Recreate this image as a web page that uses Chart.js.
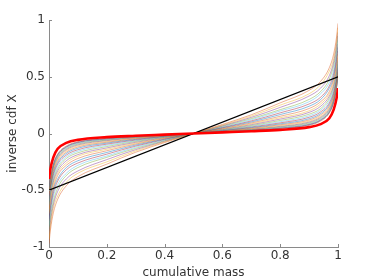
<!DOCTYPE html>
<html>
<head>
<meta charset="utf-8">
<script src="https://cdn.jsdelivr.net/npm/chart.js@4.4.1/dist/chart.umd.min.js"></script>
<style>
  html, body { margin: 0; padding: 0; background: #fff; }
  #wrap { width: 374px; height: 280px; }
</style>
</head>
<body>
<div id="wrap"><canvas id="cdfChart" width="374" height="280"></canvas></div>
<script>
// cumulative mass grid (x)
const massGrid = [0, 0.005, 0.015, 0.03, 0.06, 0.1, 0.2, 0.3, 0.4, 0.5, 0.6, 0.7, 0.8, 0.9, 0.94, 0.97, 0.985, 0.995, 1];

// thin curves, outermost (near the straight line) first
const cdfCurves = [
  [-0.97, -0.85, -0.70, -0.58, -0.46, -0.38, -0.27, -0.165, -0.08, 0, 0.08, 0.165, 0.27, 0.38, 0.46, 0.58, 0.70, 0.85, 0.97],
  [-0.93, -0.81, -0.66, -0.55, -0.43, -0.35, -0.25, -0.153, -0.074, 0, 0.074, 0.153, 0.25, 0.35, 0.43, 0.55, 0.66, 0.81, 0.93],
  [-0.89, -0.78, -0.63, -0.51, -0.40, -0.33, -0.23, -0.142, -0.069, 0, 0.069, 0.142, 0.23, 0.33, 0.40, 0.51, 0.63, 0.78, 0.89],
  [-0.86, -0.74, -0.60, -0.48, -0.37, -0.30, -0.21, -0.131, -0.064, 0, 0.064, 0.131, 0.21, 0.30, 0.37, 0.48, 0.60, 0.74, 0.86],
  [-0.82, -0.71, -0.56, -0.45, -0.35, -0.28, -0.198, -0.121, -0.059, 0, 0.059, 0.121, 0.198, 0.28, 0.35, 0.45, 0.56, 0.71, 0.82],
  [-0.79, -0.68, -0.53, -0.42, -0.32, -0.26, -0.182, -0.111, -0.054, 0, 0.054, 0.111, 0.182, 0.26, 0.32, 0.42, 0.53, 0.68, 0.79],
  [-0.76, -0.65, -0.50, -0.40, -0.30, -0.24, -0.167, -0.102, -0.050, 0, 0.050, 0.102, 0.167, 0.24, 0.30, 0.40, 0.50, 0.65, 0.76],
  [-0.73, -0.62, -0.48, -0.37, -0.28, -0.22, -0.152, -0.093, -0.045, 0, 0.045, 0.093, 0.152, 0.22, 0.28, 0.37, 0.48, 0.62, 0.73],
  [-0.70, -0.59, -0.45, -0.35, -0.26, -0.20, -0.139, -0.085, -0.042, 0, 0.042, 0.085, 0.139, 0.20, 0.26, 0.35, 0.45, 0.59, 0.70],
  [-0.67, -0.57, -0.43, -0.33, -0.24, -0.186, -0.127, -0.078, -0.038, 0, 0.038, 0.078, 0.127, 0.186, 0.24, 0.33, 0.43, 0.57, 0.67],
  [-0.65, -0.54, -0.41, -0.31, -0.22, -0.170, -0.115, -0.070, -0.034, 0, 0.034, 0.070, 0.115, 0.170, 0.22, 0.31, 0.41, 0.54, 0.65],
  [-0.63, -0.52, -0.39, -0.29, -0.205, -0.156, -0.104, -0.064, -0.031, 0, 0.031, 0.064, 0.104, 0.156, 0.205, 0.29, 0.39, 0.52, 0.63],
  [-0.61, -0.50, -0.37, -0.27, -0.190, -0.143, -0.094, -0.058, -0.028, 0, 0.028, 0.058, 0.094, 0.143, 0.190, 0.27, 0.37, 0.50, 0.61],
  [-0.59, -0.485, -0.351, -0.256, -0.176, -0.130, -0.085, -0.052, -0.026, 0, 0.026, 0.052, 0.085, 0.130, 0.176, 0.256, 0.351, 0.485, 0.59],
  [-0.572, -0.469, -0.336, -0.241, -0.164, -0.119, -0.077, -0.047, -0.023, 0, 0.023, 0.047, 0.077, 0.119, 0.164, 0.241, 0.336, 0.469, 0.572],
  [-0.557, -0.454, -0.322, -0.228, -0.152, -0.109, -0.070, -0.043, -0.021, 0, 0.021, 0.043, 0.070, 0.109, 0.152, 0.228, 0.322, 0.454, 0.557],
  [-0.544, -0.442, -0.310, -0.217, -0.143, -0.101, -0.063, -0.039, -0.019, 0, 0.019, 0.039, 0.063, 0.101, 0.143, 0.217, 0.310, 0.442, 0.544],
  [-0.532, -0.431, -0.299, -0.207, -0.134, -0.093, -0.058, -0.035, -0.018, 0, 0.018, 0.035, 0.058, 0.093, 0.134, 0.207, 0.299, 0.431, 0.532],
  [-0.522, -0.421, -0.290, -0.199, -0.126, -0.087, -0.053, -0.033, -0.016, 0, 0.016, 0.033, 0.053, 0.087, 0.126, 0.199, 0.290, 0.421, 0.522],
  [-0.514, -0.414, -0.283, -0.192, -0.121, -0.081, -0.049, -0.030, -0.015, 0, 0.015, 0.030, 0.049, 0.081, 0.121, 0.192, 0.283, 0.414, 0.514],
  [-0.508, -0.408, -0.277, -0.187, -0.116, -0.077, -0.046, -0.028, -0.014, 0, 0.014, 0.028, 0.046, 0.077, 0.116, 0.187, 0.277, 0.408, 0.508],
  [-0.50, -0.40, -0.27, -0.18, -0.11, -0.072, -0.042, -0.026, -0.013, 0, 0.013, 0.026, 0.042, 0.072, 0.11, 0.18, 0.27, 0.40, 0.50]
];

// thick red curve
const redCurve = [-0.40, -0.31, -0.21, -0.135, -0.083, -0.056, -0.032, -0.02, -0.01, 0, 0.01, 0.02, 0.032, 0.056, 0.083, 0.135, 0.21, 0.31, 0.40];

// straight black line
const lineX = [0, 1];
const lineY = [-0.5, 0.5];

const xTicks = [0, 0.2, 0.4, 0.6, 0.8, 1];
const xTickLabels = ["0", "0.2", "0.4", "0.6", "0.8", "1"];
const yTicks = [-1, -0.5, 0, 0.5, 1];
const yTickLabels = ["-1", "-0.5", "0", "0.5", "1"];

const lineColors = [
  "rgba(217,83,25,0.65)",
  "rgba(237,177,32,0.65)",
  "rgba(126,47,142,0.65)",
  "rgba(119,172,48,0.65)",
  "rgba(77,190,238,0.65)",
  "rgba(162,20,47,0.65)",
  "rgba(0,114,189,0.65)"
];

const toPoints = (xs, ys) => xs.map((x, i) => ({ x: x, y: ys[i] }));

const datasets = [];
cdfCurves.forEach((row, i) => {
  datasets.push({
    data: toPoints(massGrid, row),
    borderColor: lineColors[i % lineColors.length],
    borderWidth: 0.7,
    pointRadius: 0,
    cubicInterpolationMode: "monotone",
    order: 2
  });
});
datasets.push({
  data: toPoints(lineX, lineY),
  borderColor: "#000",
  borderWidth: 1.3,
  pointRadius: 0,
  order: 1
});
datasets.push({
  data: toPoints(massGrid, redCurve),
  borderColor: "#ff0000",
  borderWidth: 2.6,
  pointRadius: 0,
  cubicInterpolationMode: "monotone",
  order: 0
});

/* ---------- inward ticks, matlab style ---------- */
const innerTicks = {
  id: "innerTicks",
  afterDraw(chart) {
    const ctx = chart.ctx;
    const xs = chart.scales.x;
    const ys = chart.scales.y;
    const area = chart.chartArea;
    ctx.save();
    ctx.strokeStyle = "#8a8a8a";
    ctx.lineWidth = 1;
    ctx.beginPath();
    xTicks.forEach(v => {
      const px = Math.round(xs.getPixelForValue(v)) + 0.5;
      ctx.moveTo(px, area.bottom);
      ctx.lineTo(px, area.bottom - 3);
    });
    yTicks.forEach(v => {
      const py = Math.round(ys.getPixelForValue(v)) + 0.5;
      ctx.moveTo(area.left, py);
      ctx.lineTo(area.left + 3, py);
    });
    ctx.stroke();
    ctx.restore();
  }
};

const font = { family: "DejaVu Sans", size: 12 };

new Chart(document.getElementById("cdfChart"), {
  type: "line",
  data: { datasets: datasets },
  options: {
    responsive: false,
    animation: false,
    layout: { padding: { top: 20, right: 36, left: 0, bottom: 0 } },
    plugins: { legend: { display: false }, tooltip: { enabled: false } },
    scales: {
      x: {
        type: "linear",
        min: 0,
        max: 1,
        afterBuildTicks: s => { s.ticks = xTicks.map(v => ({ value: v })); },
        afterFit: s => { s.height = 33; },
        ticks: {
          color: "#333",
          font: font,
          padding: 2,
          maxRotation: 0,
          callback: v => xTickLabels[xTicks.indexOf(v)]
        },
        grid: { display: false, drawTicks: false },
        border: { display: true, color: "#8a8a8a", width: 1 },
        title: { display: true, text: "cumulative mass", color: "#333", font: font, padding: { top: 0, bottom: 0 } }
      },
      y: {
        type: "linear",
        min: -1,
        max: 1,
        afterBuildTicks: s => { s.ticks = yTicks.map(v => ({ value: v })); },
        afterFit: s => { s.width = 49; },
        ticks: {
          color: "#333",
          font: font,
          padding: 4,
          callback: v => yTickLabels[yTicks.indexOf(v)]
        },
        grid: { display: false, drawTicks: false },
        border: { display: true, color: "#8a8a8a", width: 1 },
        title: { display: true, text: "inverse cdf X", color: "#333", font: font, padding: { top: 6, bottom: 0 } }
      }
    }
  },
  plugins: [innerTicks]
});
</script>
</body>
</html>
